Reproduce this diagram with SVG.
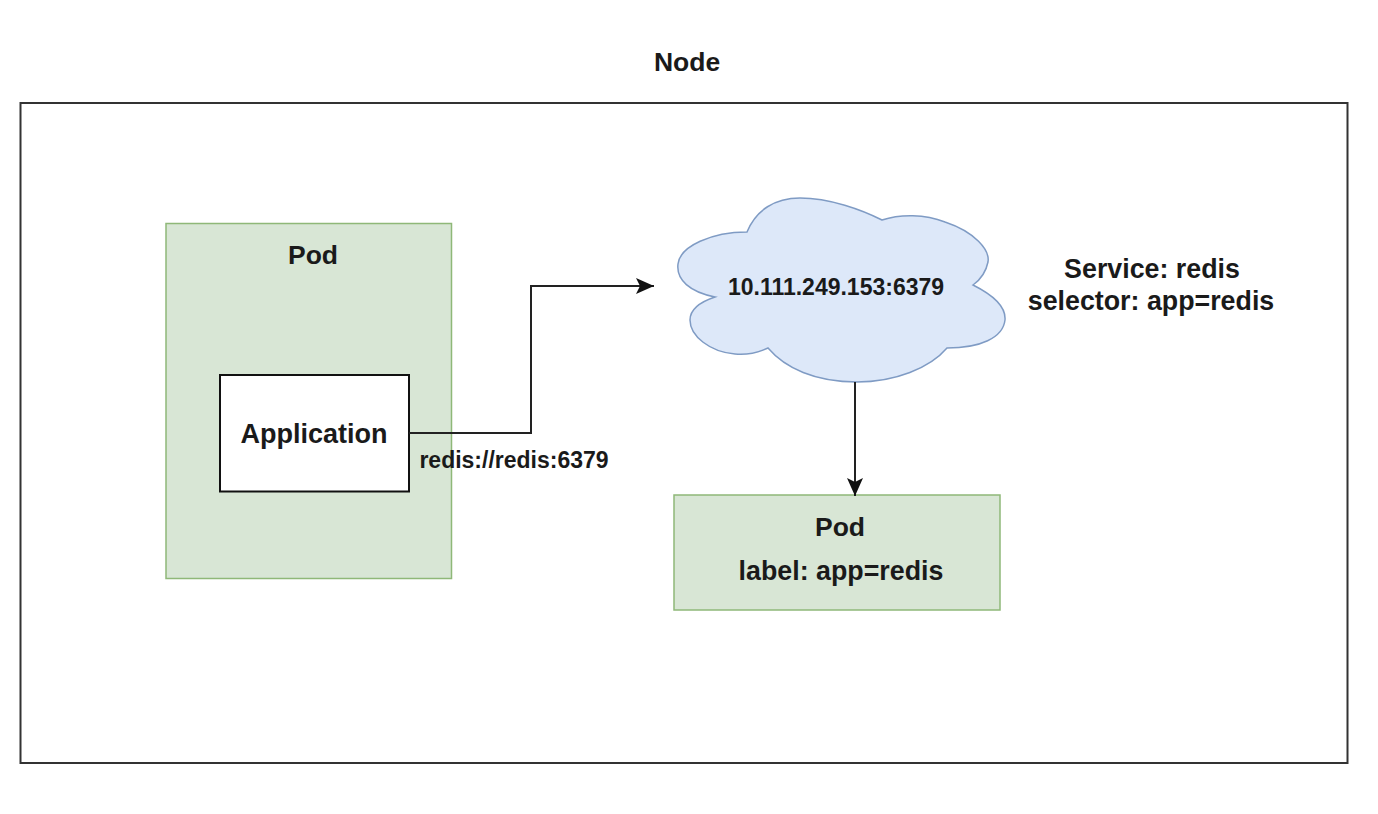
<svg xmlns="http://www.w3.org/2000/svg" width="1378" height="814" viewBox="0 0 1378 814">
<style>
text{font-family:"Liberation Sans",Arial,sans-serif;font-weight:bold;fill:#1a1a1a;text-anchor:middle}
.g{fill:#d8e6d5;stroke:#8fb878;stroke-width:1.5}
.c{fill:none;stroke:#222;stroke-width:2}
</style>
<defs><marker id="a" markerUnits="userSpaceOnUse" markerWidth="20" markerHeight="18" refX="18" refY="9" orient="auto"><path d="M0 1L18 9L0 17L4 9Z" fill="#111"/></marker></defs>
<rect width="1378" height="814" fill="#fff"/>
<g id="node"><rect x="20.500" y="103" width="1327" height="660" fill="#fff" stroke="#333" stroke-width="2"/><text x="687" y="71" font-size="26.500">Node</text></g>
<g id="pod-left"><rect class="g" x="166" y="223.500" width="285.500" height="355"/><text x="313" y="264" font-size="26.500">Pod</text></g>
<g id="application"><rect x="220" y="375" width="189" height="116.500" fill="#fff" stroke="#111" stroke-width="2"/><text x="314" y="443" font-size="27">Application</text></g>
<g id="service"><path d="M715 297C690 292 676 280 678 264C680 246 712 232 747 232C756 210 775 198 800 198C830 198 862 210 882 220C900 214 925 214 945 222C975 232 990 250 988 262C986 272 980 280 973 285C995 296 1006 308 1005 320C1003 338 980 348 947 348C930 368 895 382 857 382C815 382 785 368 768 348C755 354 745 355 735 354C710 352 690 336 690 320C690 310 700 302 715 297Z" fill="#dde8f9" stroke="#7f9bc4" stroke-width="1.500"/><text x="836" y="295" font-size="23">10.111.249.153:6379</text><text x="1152" y="278" font-size="26.800">Service: redis</text><text x="1151" y="310" font-size="26.800">selector: app=redis</text></g>
<g id="pod-right"><rect class="g" x="674" y="495" width="326" height="115"/><text x="840" y="536" font-size="26.500">Pod</text><text x="841" y="580" font-size="26.800">label: app=redis</text></g>
<g id="connectors"><path class="c" d="M409 433H531V286H654" marker-end="url(#a)"/><path class="c" d="M855 382V496" marker-end="url(#a)"/><text x="514" y="468" font-size="23">redis://redis:6379</text></g>
</svg>
